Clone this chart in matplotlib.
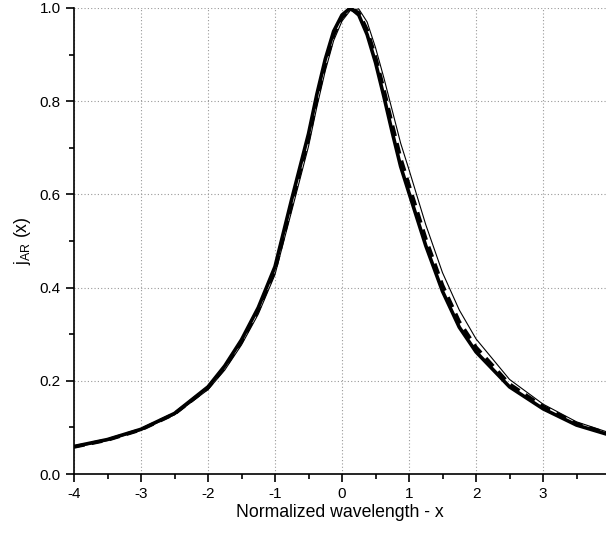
import matplotlib
matplotlib.use('Agg')
import matplotlib.pyplot as plt
from matplotlib.ticker import MultipleLocator

plt.rcParams['font.family'] = ['Liberation Sans', 'DejaVu Sans']
plt.rcParams['mathtext.fontset'] = 'custom'
plt.rcParams['mathtext.rm'] = 'Liberation Sans'
plt.rcParams['mathtext.it'] = 'Liberation Sans:italic'

# normalized wavelength samples
x = [-4, -3.5, -3, -2.5, -2, -1.75, -1.5, -1.25, -1, -0.75, -0.5, -0.375,
     -0.25, -0.125, 0, 0.125, 0.25, 0.375, 0.5, 0.625, 0.75, 0.875, 1,
     1.25, 1.5, 1.75, 2, 2.5, 3, 3.5, 3.94]

# profile j_AR(x) for the three cases
j_thick = [0.059, 0.074, 0.096, 0.130, 0.187, 0.232, 0.288, 0.357, 0.445,
           0.59, 0.73, 0.815, 0.89, 0.95, 0.985, 1.0, 0.985, 0.943, 0.883,
           0.81, 0.733, 0.66, 0.603, 0.49, 0.392, 0.315, 0.262, 0.187,
           0.140, 0.105, 0.086]
j_dashed = [0.058, 0.073, 0.095, 0.129, 0.185, 0.229, 0.284, 0.352, 0.438,
            0.58, 0.72, 0.805, 0.88, 0.942, 0.98, 0.998, 0.99, 0.953, 0.895,
            0.825, 0.75, 0.678, 0.62, 0.505, 0.405, 0.327, 0.272, 0.193,
            0.145, 0.108, 0.088]
j_thin = [0.057, 0.072, 0.094, 0.127, 0.181, 0.223, 0.277, 0.343, 0.428,
          0.565, 0.703, 0.788, 0.865, 0.93, 0.972, 0.995, 0.998, 0.97,
          0.915, 0.85, 0.78, 0.71, 0.653, 0.535, 0.432, 0.352, 0.29, 0.203,
          0.150, 0.112, 0.091]

fig = plt.figure(figsize=(6.06, 5.37), dpi=100)
ax = fig.add_axes([74 / 606, 1 - 474 / 537, 1 - 74 / 606, (474 - 8) / 537])

ax.plot(x, j_thin, color='black', lw=0.8, zorder=3)
ax.plot(x, j_thick, color='black', lw=2.6, zorder=2)
ax.plot(x, j_dashed, color='black', lw=2.6, dashes=(3, 2), zorder=4)

ax.set_xlim(-4, 3.94)
ax.set_ylim(0, 1.0)
ax.xaxis.set_major_locator(MultipleLocator(1))
ax.xaxis.set_minor_locator(MultipleLocator(0.5))
ax.yaxis.set_major_locator(MultipleLocator(0.2))
ax.yaxis.set_minor_locator(MultipleLocator(0.1))
ax.xaxis.set_major_formatter(plt.FuncFormatter(lambda v, p: f'{v:.0f}'))
ax.yaxis.set_major_formatter(plt.FuncFormatter(lambda v, p: f'{v:.1f}'))

ax.grid(True, which='major', color='#999999', ls=(0, (1, 2)), lw=0.8)
ax.set_axisbelow(True)

for side in ('top', 'right'):
    ax.spines[side].set_visible(False)
for side in ('left', 'bottom'):
    ax.spines[side].set_linewidth(1.2)

ax.tick_params(which='major', direction='out', length=6, width=1.2,
               labelsize=11)
ax.tick_params(which='minor', direction='out', length=3.5, width=1.2)

ax.set_xlabel('Normalized wavelength - x', fontsize=12.7, labelpad=2)
ax.set_ylabel(r'j$_{\mathrm{AR}}$ (x)', fontsize=12.7, labelpad=5)

fig.savefig('out.png', dpi=100)
